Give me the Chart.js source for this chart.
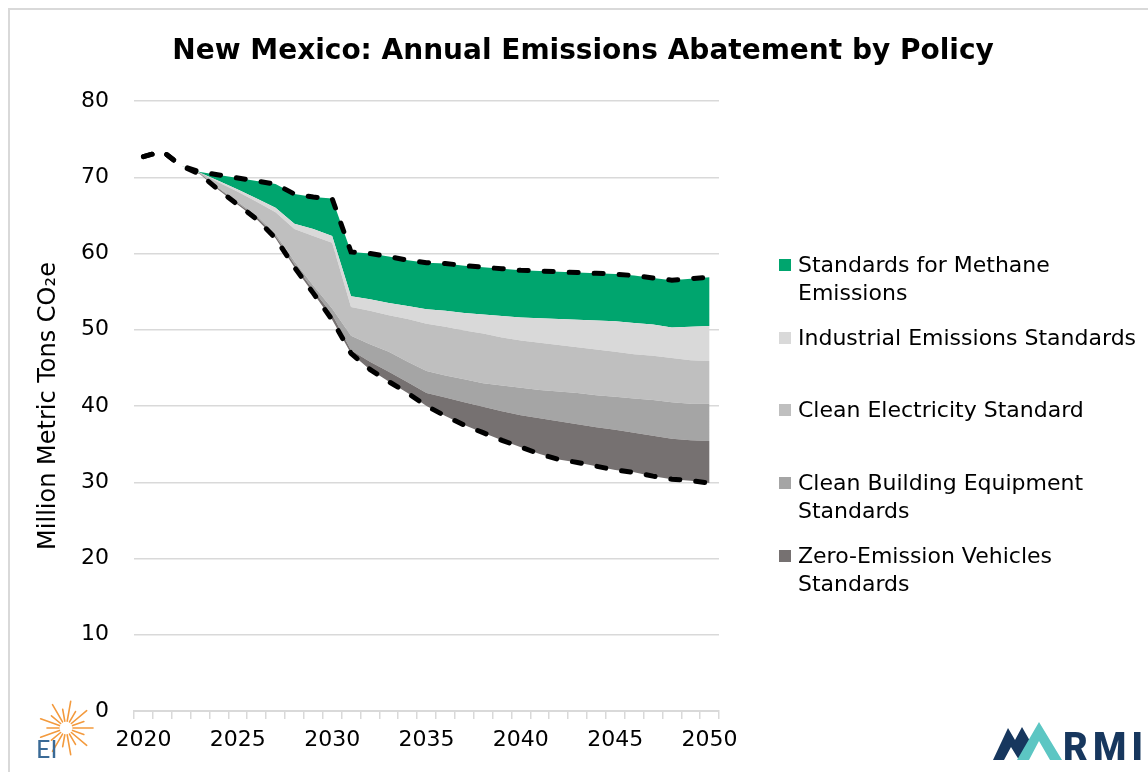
<!DOCTYPE html>
<html>
<head>
<meta charset="utf-8">
<script src="https://cdn.jsdelivr.net/npm/chart.js@4.4.1/dist/chart.umd.min.js"></script>
<style>
  html, body { margin: 0; padding: 0; background: #fff; }
  #wrap { position: relative; width: 1148px; height: 772px; overflow: hidden; font-family: "DejaVu Sans", Lato, sans-serif; color: #000; }
  #frame { position: absolute; left: 8px; top: 8px; width: 1150px; height: 770px; border-left: 2px solid #d9d9d9; border-top: 2px solid #d9d9d9; }
  #chartBox { position: absolute; left: 0; top: 0; width: 1148px; height: 772px; }
  #title { position: absolute; left: 133px; width: 900px; top: 30px; text-align: center; font-weight: 700; font-size: 28px; line-height: 40px; white-space: nowrap; }
  .lg { position: absolute; left: 779px; font-size: 22px; line-height: 28px; }
  .lg i { position: absolute; left: 0; top: 8px; width: 12px; height: 12px; }
  .lg span { display: block; margin-left: 19px; white-space: nowrap; }
  svg { position: absolute; }
</style>
</head>
<body>
<div id="wrap">
  <div id="frame"></div>
  <div id="chartBox"><canvas id="emissions"></canvas></div>
  <div id="title">New Mexico: Annual Emissions Abatement by Policy</div>
  <div id="legend"></div>

  <!-- EI mark -->
  <svg id="eiLogo" width="70" height="70" style="left:30px; top:698px;">
    <g id="rays" stroke="#f39a3d" stroke-width="1.6" stroke-linecap="round"></g>
    <text x="6" y="60" font-family="Lato, sans-serif" font-size="25" fill="#3a6a96">EI</text>
  </svg>

  <!-- RMI mark -->
  <svg width="160" height="50" style="left:988px; top:716px;">
    <polygon points="5,44 20,12 27,24 34,11 42,25 31,44 23,31 16,44" fill="#17375e"/>
    <polygon points="29,44 51,6 74,44 62,44 51,25 41,44" fill="#5cc6c3"/>
    <text x="75" y="44" textLength="80" font-family="Roboto, sans-serif" font-weight="900" font-size="38" fill="#17375e">RMI</text>
  </svg>
</div>

<script>
// Categories
const years = [2020, 2021, 2022, 2023, 2024, 2025, 2026, 2027, 2028, 2029, 2030,
               2031, 2032, 2033, 2034, 2035, 2036, 2037, 2038, 2039, 2040,
               2041, 2042, 2043, 2044, 2045, 2046, 2047, 2048, 2049, 2050];

// Emissions left after all policies (million metric tons CO2e)
const remaining = [72.7, 73.4, 71.5, 70.4, 68.3, 66.4, 64.5, 62.0, 58.2, 54.8, 51.3,
                   46.9, 44.8, 43.2, 41.7, 40.0, 38.7, 37.5, 36.5, 35.5, 34.6,
                   33.7, 33.0, 32.6, 32.1, 31.6, 31.3, 30.8, 30.4, 30.2, 29.9];

// Abatement by policy, stacked on top of the remaining emissions
const zevStd = [0, 0, 0, 0.1, 0.2, 0.2, 0.3, 0.3, 0.4, 0.4, 0.7,
                0.4, 1.0, 1.3, 1.4, 1.7, 2.4, 3.0, 3.4, 3.8, 4.2,
                4.7, 5.0, 5.0, 5.1, 5.3, 5.2, 5.3, 5.3, 5.3, 5.5];
const buildingStd = [0, 0, 0, 0, 0.1, 0.2, 0.2, 0.3, 0.4, 0.6, 0.8,
                     1.9, 2.3, 2.6, 2.7, 2.9, 2.9, 3.0, 3.1, 3.4, 3.6,
                     3.7, 3.9, 4.1, 4.2, 4.3, 4.5, 4.7, 4.8, 4.8, 4.9];
const electricityStd = [0, 0, 0, 0.1, 0.7, 1.3, 1.8, 2.8, 4.2, 6.5, 8.6,
                        3.8, 4.4, 4.8, 5.6, 6.2, 6.4, 6.4, 6.5, 6.3, 6.2,
                        6.2, 6.1, 6.0, 6.0, 5.9, 5.8, 5.8, 5.8, 5.7, 5.6];
const industrialStd = [0, 0, 0, 0, 0.2, 0.3, 0.4, 0.6, 0.7, 0.9, 0.9,
                       1.4, 1.5, 1.6, 1.7, 1.9, 2.1, 2.3, 2.5, 2.8, 3.0,
                       3.2, 3.4, 3.6, 3.8, 4.0, 4.1, 4.1, 4.0, 4.4, 4.6];
const methaneStd = [0, 0, 0, 0.1, 0.8, 1.5, 2.3, 3.1, 3.9, 4.2, 4.9,
                    5.8, 6.0, 6.1, 6.0, 6.1, 6.2, 6.2, 6.2, 6.2, 6.2,
                    6.2, 6.2, 6.2, 6.2, 6.2, 6.2, 6.1, 6.2, 6.3, 6.4];

const yTicks = [0, 10, 20, 30, 40, 50, 60, 70, 80];

// reference case = remaining emissions plus every policy's abatement
const reference = remaining.map((v, i) =>
    v + zevStd[i] + buildingStd[i] + electricityStd[i] + industrialStd[i] + methaneStd[i]);

const policies = [
    { label: ['Zero-Emission Vehicles', 'Standards'], data: zevStd, color: '#767171' },
    { label: ['Clean Building Equipment', 'Standards'], data: buildingStd, color: '#a5a5a5' },
    { label: ['Clean Electricity Standard'], data: electricityStd, color: '#bfbfbf' },
    { label: ['Industrial Emissions Standards'], data: industrialStd, color: '#d9d9d9' },
    { label: ['Standards for Methane', 'Emissions'], data: methaneStd, color: '#00a56e' },
];

const tickFont = { family: '"DejaVu Sans", Lato, sans-serif', size: 22 };
const axisTitleFont = { family: '"DejaVu Sans", Lato, sans-serif', size: 24 };

const dashed = {
    borderColor: '#000',
    borderWidth: 5,
    borderDash: [9, 16],
    borderCapStyle: 'round',
    fill: false,
    pointRadius: 0,
    tension: 0,
    order: 1,
};

const datasets = [
    { label: 'Remaining', data: remaining, stack: 'abatement', fill: false, borderWidth: 0,
      borderColor: 'rgba(0,0,0,0)', pointRadius: 0, order: 2 },
];
policies.forEach(p => datasets.push({
    label: p.label.join(' '),
    data: p.data,
    stack: 'abatement',
    fill: '-1',
    backgroundColor: p.color,
    borderColor: 'rgba(0,0,0,0)',
    borderWidth: 0,
    pointRadius: 0,
    tension: 0,
    order: 2,
}));
datasets.push(Object.assign({ label: 'With policies', data: remaining, stack: 'low' }, dashed));
datasets.push(Object.assign({ label: 'Reference', data: reference, stack: 'high' }, dashed));

const emissionsChart = new Chart(document.getElementById('emissions'),
    {
        type: 'line',
        data:
        {
            labels: years,
            datasets: datasets
        },
        options:
        {
            responsive: true,
            maintainAspectRatio: false,
            animation: false,
            layout: { padding: { left: 0, top: 101, right: 429, bottom: 0 } },
            plugins:
            {
                legend: { display: false },
                title: { display: false },
                tooltip: { enabled: false }
            },
            scales:
            {
                x:
                {
                    offset: true,
                    grid: { display: true, drawOnChartArea: false, drawTicks: true, tickLength: 8,
                            offset: true, color: '#d9d9d9', lineWidth: 1.5 },
                    border: { display: true, color: '#d9d9d9', width: 2 },
                    ticks:
                    {
                        autoSkip: false,
                        maxRotation: 0,
                        padding: 8,
                        color: '#000',
                        font: tickFont,
                        callback: (v, i) => (years[i] % 5 === 0 ? String(years[i]) : '')
                    },
                    afterFit: s => { s.height = 61; }
                },
                y:
                {
                    stacked: true,
                    min: yTicks[0],
                    max: yTicks[yTicks.length - 1],
                    afterBuildTicks: s => { s.ticks = yTicks.map(v => ({ value: v })); },
                    grid: { color: '#d9d9d9', lineWidth: 1.5, drawTicks: false },
                    border: { display: false },
                    ticks: { padding: 25, color: '#000', font: tickFont },
                    title:
                    {
                        display: true,
                        text: 'Million Metric Tons CO\u2082e',
                        color: '#000',
                        font: axisTitleFont,
                        padding: { top: 34, bottom: 0 }
                    },
                    afterFit: s => { s.width = 134; }
                }
            }
        }
    });

// legend on the right, top entry first
const legendTops = [251, 324, 396, 469, 542];
const legendBox = document.getElementById('legend');
policies.slice().reverse().forEach((p, k) => {
    const item = document.createElement('div');
    item.className = 'lg';
    item.style.top = legendTops[k] + 'px';
    const sw = document.createElement('i');
    sw.style.background = p.color;
    item.appendChild(sw);
    p.label.forEach(line => {
        const s = document.createElement('span');
        s.textContent = line;
        item.appendChild(s);
    });
    legendBox.appendChild(item);
});

// sun rays for the EI mark
const rays = document.getElementById('rays');
for (let a = -80; a <= 260; a += 20) {
    const r = a * Math.PI / 180;
    const inner = 7, outer = (a % 40 === 0) ? 27 : 19;
    const l = document.createElementNS('http://www.w3.org/2000/svg', 'line');
    l.setAttribute('x1', 36 + inner * Math.cos(r));
    l.setAttribute('y1', 30 - inner * Math.sin(r));
    l.setAttribute('x2', 36 + outer * Math.cos(r));
    l.setAttribute('y2', 30 - outer * Math.sin(r));
    rays.appendChild(l);
}
</script>
</body>
</html>
